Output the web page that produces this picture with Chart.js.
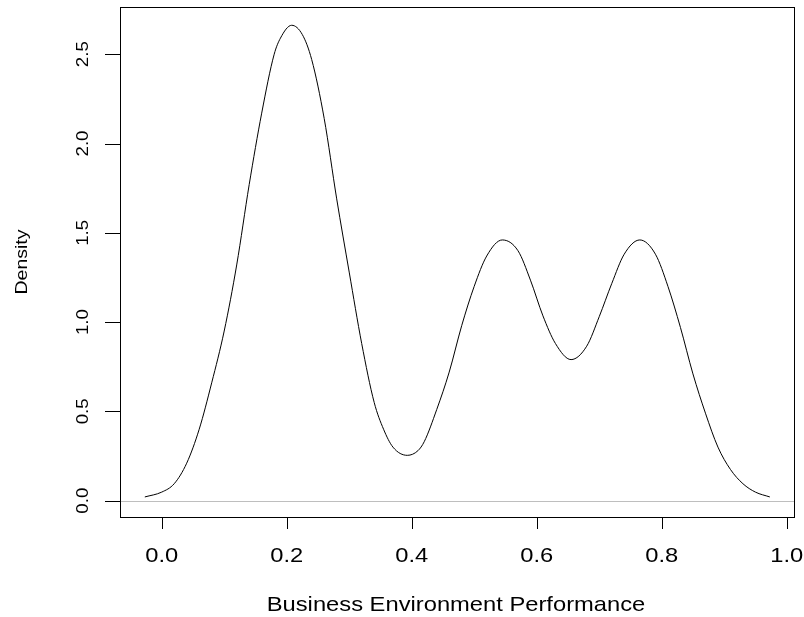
<!DOCTYPE html>
<html>
<head>
<meta charset="utf-8">
<script src="https://cdn.jsdelivr.net/npm/chart.js@4.4.1/dist/chart.umd.min.js"></script>
<style>
  body { margin: 0; background: #fff; }
  canvas { display: block; }
</style>
</head>
<body>
<canvas id="chart1" width="804" height="617"></canvas>
<script>
// density estimate
var densityX = [-0.027, 0.0, 0.02, 0.04, 0.06, 0.08, 0.10, 0.12, 0.14, 0.16, 0.18, 0.19, 0.208, 0.225,
    0.24, 0.26, 0.28, 0.30, 0.32, 0.34, 0.355, 0.37, 0.393, 0.41, 0.42, 0.44, 0.46, 0.48, 0.50, 0.52,
    0.545, 0.57, 0.59, 0.61, 0.63, 0.655, 0.68, 0.70, 0.72, 0.74, 0.765, 0.79, 0.81, 0.83, 0.85,
    0.87, 0.89, 0.91, 0.93, 0.95, 0.973];
var densityY = [0.021, 0.048, 0.095, 0.21, 0.40, 0.66, 0.95, 1.32, 1.77, 2.17, 2.50, 2.59, 2.662, 2.61,
    2.47, 2.14, 1.69, 1.28, 0.88, 0.55, 0.40, 0.30, 0.254, 0.28, 0.33, 0.51, 0.72, 0.98, 1.20, 1.37,
    1.46, 1.40, 1.235, 1.035, 0.88, 0.79, 0.865, 1.03, 1.215, 1.38, 1.46, 1.38, 1.20, 0.97, 0.71,
    0.49, 0.30, 0.175, 0.095, 0.048, 0.021];

var xTicks = [0.0, 0.2, 0.4, 0.6, 0.8, 1.0];
var yTicks = [0.0, 0.5, 1.0, 1.5, 2.0, 2.5];
var xTitle = 'Business Environment Performance';
var yTitle = 'Density';

var points = densityX.map(function(x, i) { return { x: x, y: densityY[i] }; });

var FONT = '"Liberation Sans", Arial, Helvetica, sans-serif';

function rText(ctx, text, x, y, size, rot) {
    ctx.save();
    ctx.translate(x, y);
    if (rot) ctx.rotate(rot);
    ctx.scale(1.13, 1);
    ctx.font = size + 'px ' + FONT;
    ctx.fillStyle = '#000';
    ctx.textAlign = 'center';
    ctx.textBaseline = 'alphabetic';
    ctx.fillText(text, 0, 0);
    ctx.restore();
}

// R style box + axes, drawn from the chart's own scales
var rAxes = {
    id: 'rAxes',
    beforeDatasetsDraw: function(chart) {
        var ctx = chart.ctx, a = chart.chartArea;
        var y0 = Math.round(chart.scales.y.getPixelForValue(0)) + 0.5;
        ctx.save();
        ctx.strokeStyle = '#bebebe';
        ctx.lineWidth = 1;
        ctx.beginPath();
        ctx.moveTo(a.left, y0);
        ctx.lineTo(a.right, y0);
        ctx.stroke();
        ctx.restore();
    },
    afterDraw: function(chart) {
        var ctx = chart.ctx, a = chart.chartArea;
        var sx = chart.scales.x, sy = chart.scales.y;
        ctx.save();
        ctx.strokeStyle = '#000';
        ctx.lineWidth = 1;
        ctx.strokeRect(a.left + 0.5, a.top + 0.5, a.right - a.left, a.bottom - a.top);

        ctx.beginPath();
        xTicks.forEach(function(v) {
            var px = Math.round(sx.getPixelForValue(v)) + 0.5;
            ctx.moveTo(px, a.bottom);
            ctx.lineTo(px, a.bottom + 12);
        });
        yTicks.forEach(function(v) {
            var py = Math.round(sy.getPixelForValue(v)) + 0.5;
            ctx.moveTo(a.left, py);
            ctx.lineTo(a.left - 15, py);
        });
        ctx.stroke();
        ctx.restore();

        xTicks.forEach(function(v) {
            rText(ctx, v.toFixed(1), sx.getPixelForValue(v), a.bottom + 45, 21, 0);
        });
        yTicks.forEach(function(v) {
            rText(ctx, v.toFixed(1), a.left - 32, sy.getPixelForValue(v), 16.5, -Math.PI / 2);
        });
        rText(ctx, xTitle, (a.left + a.right) / 2 - 1, a.bottom + 94, 21, 0);
        rText(ctx, yTitle, 27, (a.top + a.bottom) / 2, 17.3, -Math.PI / 2);
    }
};

var ctx1 = document.getElementById('chart1').getContext('2d');
new Chart(ctx1, {
    type: 'line',
    plugins: [rAxes],
    data: {
        datasets: [{
            data: points,
            borderColor: '#000',
            borderWidth: 1,
            pointRadius: 0,
            fill: false,
            cubicInterpolationMode: 'monotone'
        }]
    },
    options: {
        responsive: false,
        maintainAspectRatio: false,
        animation: false,
        devicePixelRatio: 1,
        layout: { padding: { left: 120, right: 10, top: 7, bottom: 100 } },
        scales: {
            x: { type: 'linear', display: false, min: -0.0667, max: 1.0117 },
            y: { type: 'linear', display: false, min: -0.0913, max: 2.7643 }
        },
        plugins: {
            legend: { display: false },
            tooltip: { enabled: false }
        }
    }
});
</script>
</body>
</html>
